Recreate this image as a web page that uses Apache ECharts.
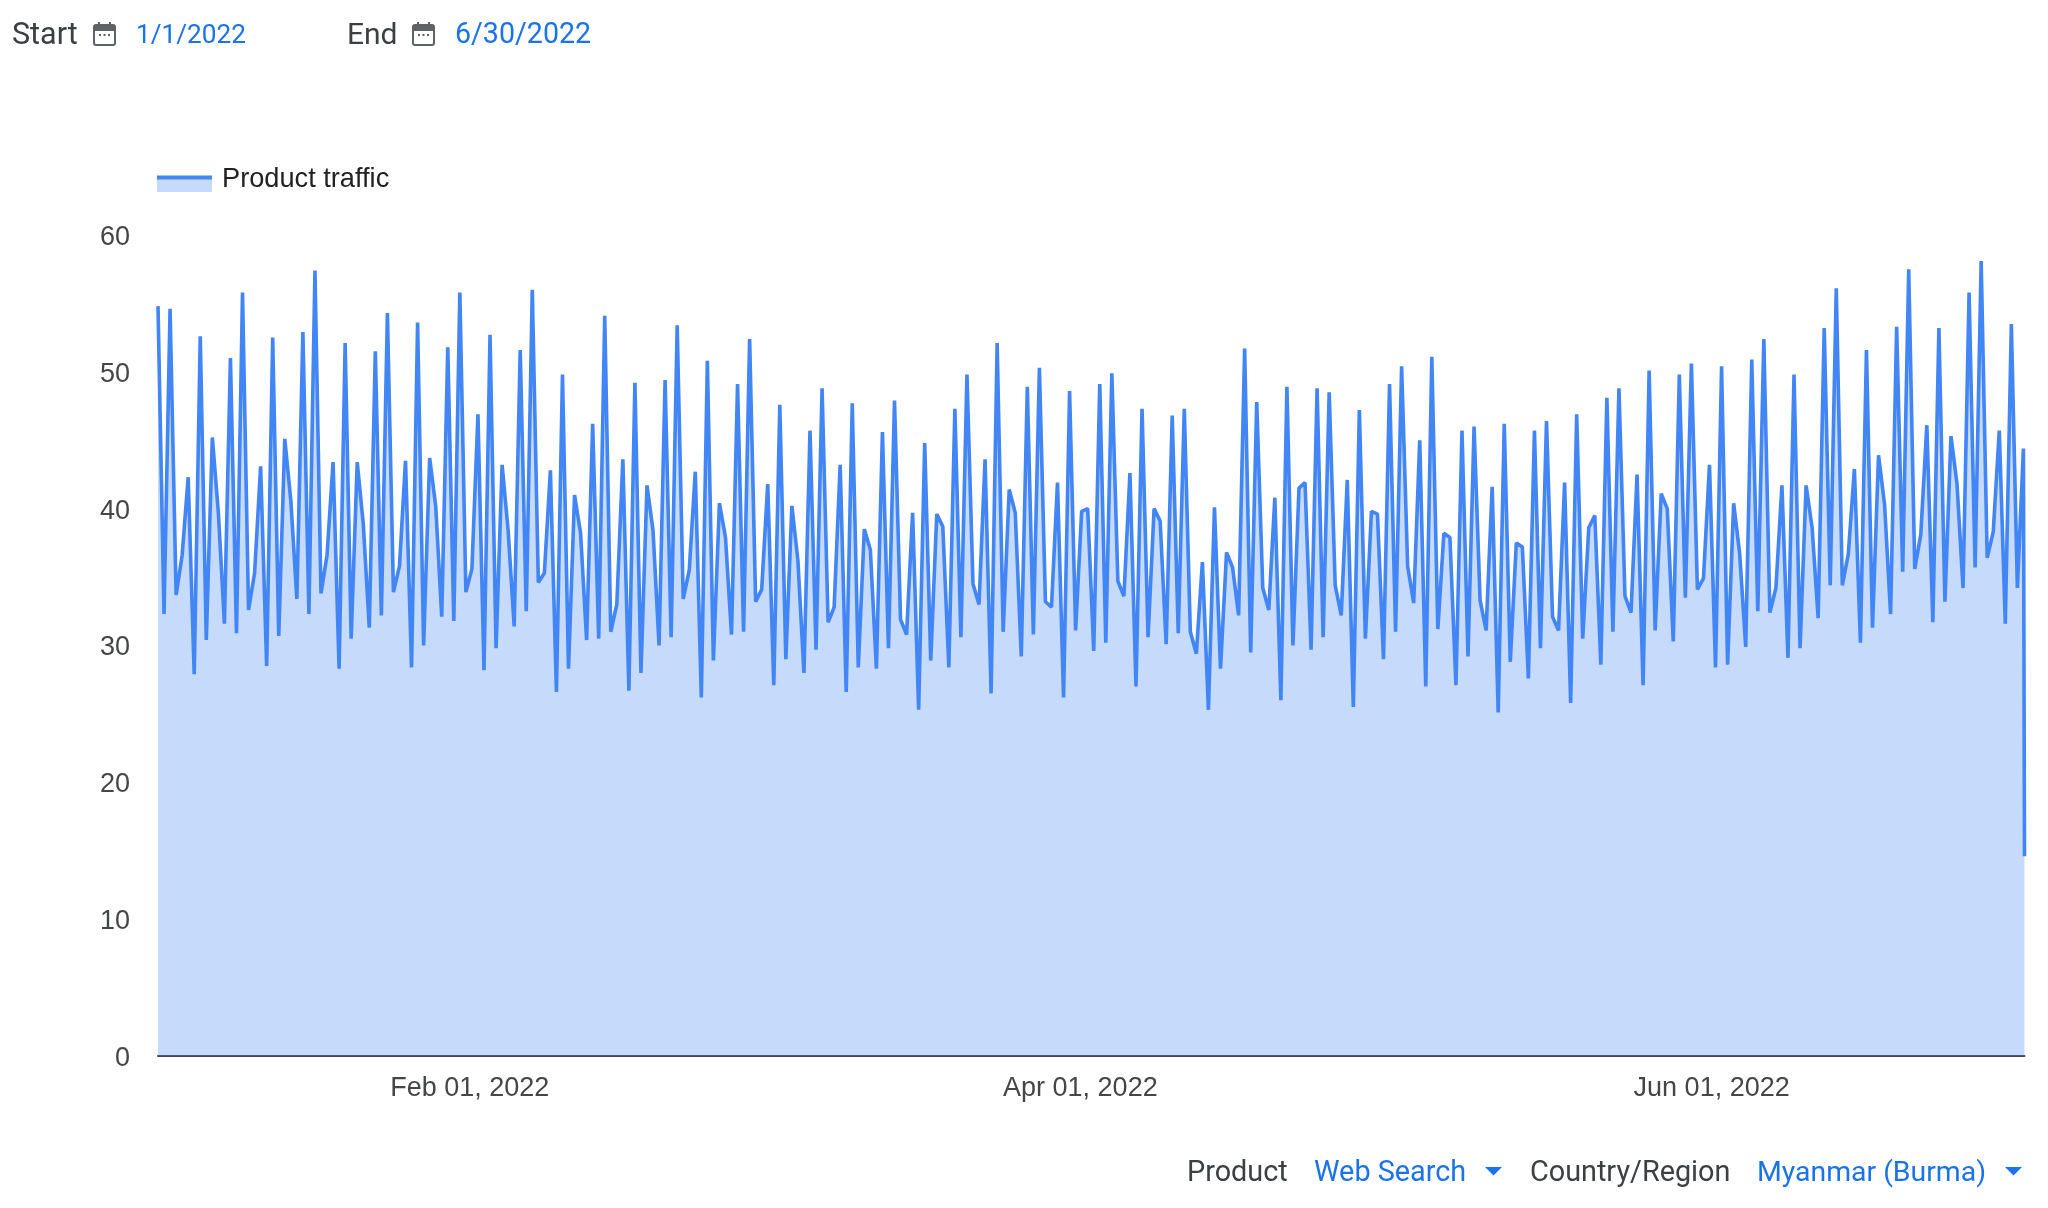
<!DOCTYPE html>
<html>
<head>
<meta charset="utf-8">
<style>html,body{margin:0;padding:0;background:#fff}#c{width:2048px;height:1208px}</style>
<script src="https://cdn.jsdelivr.net/npm/echarts@6/dist/echarts.min.js"></script>
</head>
<body>
<div id="c"></div>
<script>
const seriesName = 'Product traffic';
const rangeStart = Date.UTC(2022, 0, 1, 21);
const rangeEnd = Date.UTC(2022, 6, 1, 5, 30);
const stepHours = 14;
const tickDates = [Date.UTC(2022, 1, 1), Date.UTC(2022, 3, 1), Date.UTC(2022, 5, 1)];
const tickLabels = ['Feb 01, 2022', 'Apr 01, 2022', 'Jun 01, 2022'];
const values = [
54.8,32.3,54.6,33.7,36.6,42.3,27.9,52.6,30.4,45.2,39.7,31.6,51.0,30.9,55.8,32.6,35.3,43.1,28.5,52.5,
30.7,45.1,40.6,33.4,52.9,32.3,57.4,33.8,36.6,43.4,28.3,52.1,30.5,43.4,38.9,31.3,51.5,32.2,54.3,33.9,
35.8,43.5,28.4,53.6,30.0,43.7,40.2,32.1,51.8,31.8,55.8,33.9,35.6,46.9,28.2,52.7,29.8,43.2,38.4,31.4,
51.6,32.5,56.0,34.6,35.3,42.8,26.6,49.8,28.3,41.0,38.2,30.4,46.2,30.5,54.1,
31.0,33.0,43.6,26.7,49.2,28.0,41.7,38.4,30.0,49.4,30.6,53.4,33.4,35.5,42.7,26.2,50.8,28.9,40.4,37.9,
30.8,49.1,31.0,52.4,33.2,34.1,41.8,27.1,47.6,29.0,40.2,36.2,28.0,45.7,29.7,48.8,31.7,32.8,43.2,26.6,
47.7,28.4,38.5,37.0,28.3,45.6,29.8,47.9,31.9,30.8,39.7,25.3,44.8,28.9,39.6,38.7,28.4,47.3,30.6,49.8,
34.5,33.0,43.6,26.5,52.1,31.0,41.4,39.7,29.2,48.9,30.8,50.3,33.2,32.8,41.9,26.2,48.6,
31.1,39.8,40.0,29.6,49.1,30.2,49.9,34.7,33.6,42.6,27.0,47.3,30.6,40.0,39.1,30.1,46.8,30.9,47.3,31.0,
29.4,36.1,25.3,40.1,28.3,36.8,35.7,32.2,51.7,29.5,47.8,34.2,32.6,40.8,26.0,48.9,30.0,41.5,41.9,29.7,
48.8,30.6,48.5,34.4,32.2,42.1,25.5,47.2,30.5,39.8,39.6,29.0,49.1,31.0,50.4,35.8,33.1,45.0,27.0,51.1,
31.2,38.2,37.9,27.1,45.7,29.2,46.0,33.3,31.1,41.6,25.1,46.2,28.8,37.5,37.2,27.6,45.7,29.8,
46.4,32.1,31.1,41.9,25.8,46.9,30.5,38.6,39.5,28.6,48.1,31.0,48.8,33.6,32.4,42.5,27.1,50.1,31.1,41.1,
40.0,30.3,49.8,33.5,50.6,34.1,34.9,43.2,28.4,50.4,28.6,40.4,36.7,29.9,50.9,32.5,52.4,32.4,34.2,41.7,
29.1,49.8,29.8,41.7,38.6,32.0,53.2,34.4,56.1,34.4,36.7,42.9,30.2,51.6,31.3,43.9,40.3,32.3,53.3,35.4,
57.5,35.6,38.1,46.1,31.7,53.2,33.2,45.3,41.8,34.2,55.8,35.7,58.1,36.4,38.3,45.7,31.6,53.5,34.2,44.4,
14.6
];
const points = values.map((v, i) => [i === values.length - 1 ? rangeEnd : rangeStart + i * stepHours * 3600000, v]);

const textDark = '#3c4043', textBlue = '#1a73e8', axisGrey = '#444746';
const uiFont = 'Roboto, sans-serif', chartFont = '"Liberation Sans", Arial, sans-serif';
const label = (text, x, y, fill, fontSize, font) => ({
  type: 'text', silent: true,
  style: { text, x, y, fill, font: fontSize + 'px ' + (font || uiFont), textVerticalAlign: 'middle', textAlign: 'left' }
});
const calendar = (x, y) => ({
  type: 'group', x, y, silent: true,
  children: [
    { type: 'rect', shape: { x: 1, y: 3, width: 21, height: 20, r: 2 }, style: { fill: 'none', stroke: '#5f6368', lineWidth: 2 } },
    { type: 'rect', shape: { x: 1, y: 3, width: 21, height: 6 }, style: { fill: '#5f6368' } },
    { type: 'rect', shape: { x: 5, y: 0, width: 2, height: 4 }, style: { fill: '#5f6368' } },
    { type: 'rect', shape: { x: 16, y: 0, width: 2, height: 4 }, style: { fill: '#5f6368' } },
    { type: 'rect', shape: { x: 6, y: 12, width: 2, height: 2 }, style: { fill: '#5f6368' } },
    { type: 'rect', shape: { x: 10.5, y: 12, width: 2, height: 2 }, style: { fill: '#5f6368' } },
    { type: 'rect', shape: { x: 15, y: 12, width: 2, height: 2 }, style: { fill: '#5f6368' } }
  ]
});
const caret = (x, y) => ({
  type: 'polygon', silent: true,
  shape: { points: [[x, y], [x + 17, y], [x + 8.5, y + 8.5]] },
  style: { fill: textBlue }
});

const chart = echarts.init(document.getElementById('c'), null, { renderer: 'canvas' });
chart.setOption({
  animation: false,
  backgroundColor: '#fff',
  grid: { left: 158, right: 23.5, top: 235, bottom: 152, containLabel: false },
  legend: {
    left: 157, top: 166.3, padding: 0, icon: 'rect', itemWidth: 55, itemHeight: 16, itemGap: 0,
    itemStyle: { color: 'rgba(0,0,0,0)', borderWidth: 0 },
    selectedMode: false,
    textStyle: { color: '#222222', fontSize: 27.2, fontFamily: chartFont, padding: [0, 0, 0, 5] },
    data: [seriesName]
  },
  xAxis: {
    type: 'value', min: rangeStart, max: rangeEnd, scale: true,
    axisLine: { show: true, onZero: false, lineStyle: { color: axisGrey, width: 2 } },
    axisTick: { show: false },
    splitLine: { show: false },
    axisLabel: {
      customValues: tickDates,
      color: '#444746', fontSize: 27, fontFamily: chartFont, margin: 19.5,
      hideOverlap: false,
      formatter: (v) => tickLabels[tickDates.indexOf(+v)] || ''
    }
  },
  yAxis: {
    type: 'value', min: 0, max: 60, interval: 10,
    axisLine: { show: false }, axisTick: { show: false }, splitLine: { show: false },
    axisLabel: {
      margin: 28,
      formatter: '{n|{value}}',
      rich: { n: { color: '#444746', fontSize: 27, fontFamily: chartFont, padding: [5, 0, 0, 0] } }
    }
  },
  series: [{
    name: seriesName, type: 'line', data: points, showSymbol: false, symbol: 'none', clip: false,
    lineStyle: { color: '#4285f4', width: 3.6, join: 'bevel', cap: 'butt' },
    itemStyle: { color: '#4285f4' },
    areaStyle: { color: '#4285f4', opacity: 0.3 }
  }],
  graphic: [
    { type: 'rect', silent: true, z: 99, shape: { x: 157, y: 176, width: 55, height: 16 }, style: { fill: '#c6dafc' } },
    { type: 'rect', silent: true, z: 100, shape: { x: 157, y: 175.5, width: 55, height: 4 }, style: { fill: '#4285f4' } },
    label('Start', 12, 36, textDark, 30.5),
    calendar(93, 22),
    label('1/1/2022', 136, 36, textBlue, 26.2),
    label('End', 347, 36, textDark, 30),
    calendar(412, 22),
    label('6/30/2022', 455, 36, textBlue, 28.6),
    label('Product', 1187, 1174, textDark, 28.8),
    label('Web Search', 1314, 1174, textBlue, 28.8),
    caret(1485, 1167),
    label('Country/Region', 1530, 1174, textDark, 28.8),
    label('Myanmar (Burma)', 1757, 1174, textBlue, 28.4),
    caret(2005, 1167)
  ]
});
</script>
</body>
</html>
